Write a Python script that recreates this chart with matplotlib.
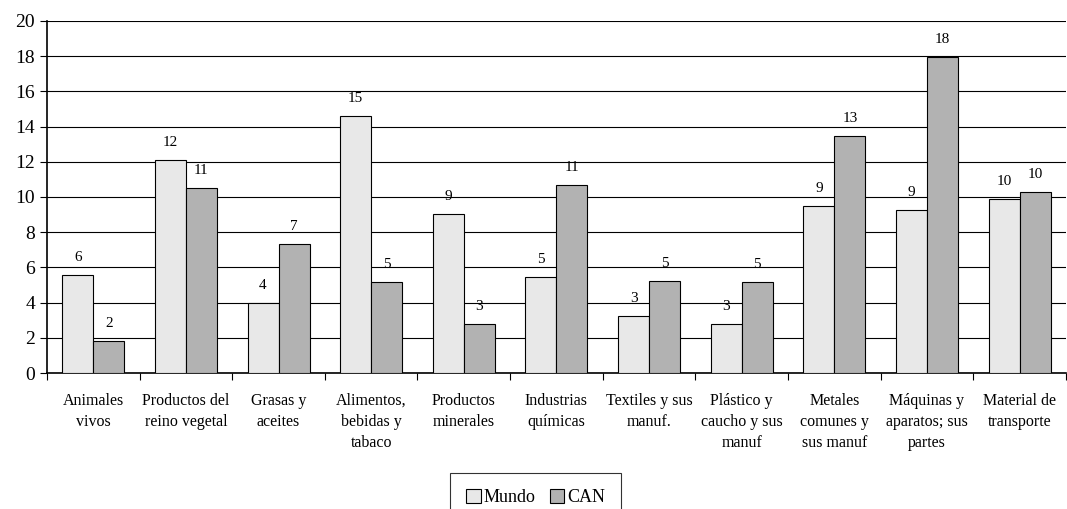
import matplotlib.pyplot as plt
import numpy as np

categorias = ["Animales\nvivos", "Productos del\nreino vegetal", "Grasas y\naceites",
              "Alimentos,\nbebidas y\ntabaco", "Productos\nminerales", "Industrias\nquímicas",
              "Textiles y sus\nmanuf.", "Plástico y\ncaucho y sus\nmanuf", "Metales\ncomunes y\nsus manuf",
              "Máquinas y\naparatos; sus\npartes", "Material de\ntransporte"]
mundo = [5.57, 12.1, 3.98, 14.6, 9.05, 5.45, 3.22, 2.78, 9.49, 9.26, 9.89]
can = [1.82, 10.52, 7.33, 5.17, 2.78, 10.68, 5.23, 5.17, 13.45, 17.95, 10.3]

plt.rcParams['font.family'] = ['Liberation Serif', 'DejaVu Serif']

fig = plt.figure(figsize=(10.67, 5.09), dpi=100)
ax = fig.add_axes([0.044, 0.267, 0.955, 0.692])

x = np.arange(len(categorias))
w = 0.335
b1 = ax.bar(x - w / 2, mundo, w, color='#e8e8e8', edgecolor='black', linewidth=0.8, label='Mundo', zorder=3)
b2 = ax.bar(x + w / 2, can, w, color='#b2b2b2', edgecolor='black', linewidth=0.8, label='CAN', zorder=3)

for bars, vals in ((b1, mundo), (b2, can)):
    for r, v in zip(bars, vals):
        ax.annotate(f"{int(v + 0.5)}", (r.get_x() + r.get_width() / 2, v), xytext=(0, 8),
                    textcoords='offset points', ha='center', va='bottom', fontsize=11)

ax.set_xlim(-0.5, len(categorias) - 0.5)
ax.set_ylim(0, 20)
ax.set_yticks(range(0, 21, 2))
ax.yaxis.grid(True, color='black', linewidth=0.8, zorder=0)
ax.set_axisbelow(True)

ax.set_xticks(np.arange(len(categorias) + 1) - 0.5)
ax.set_xticklabels([])
ax.set_xticks(x, minor=True)
ax.set_xticklabels(categorias, minor=True, fontsize=11.5, linespacing=1.45)
ax.tick_params(axis='x', which='minor', length=0, pad=14)
ax.tick_params(axis='x', which='major', length=5, direction='out')
ax.tick_params(axis='y', labelsize=14, length=5)

for s in ('top', 'right'):
    ax.spines[s].set_visible(False)
ax.spines['left'].set_linewidth(1.2)
ax.spines['bottom'].set_linewidth(1.2)

leg = fig.legend(loc='upper center', bbox_to_anchor=(0.502, 36 / 509), ncol=2, fontsize=13,
                 frameon=True, fancybox=False, edgecolor='black', handlelength=0.8,
                 handleheight=0.8, handletextpad=0.15, columnspacing=0.8, borderpad=0.9,
                 borderaxespad=0)
leg.get_frame().set_linewidth(0.8)
leg._legend_box.sep = 6
leg.set_in_layout(False)

fig.savefig('out.png', dpi=100)
